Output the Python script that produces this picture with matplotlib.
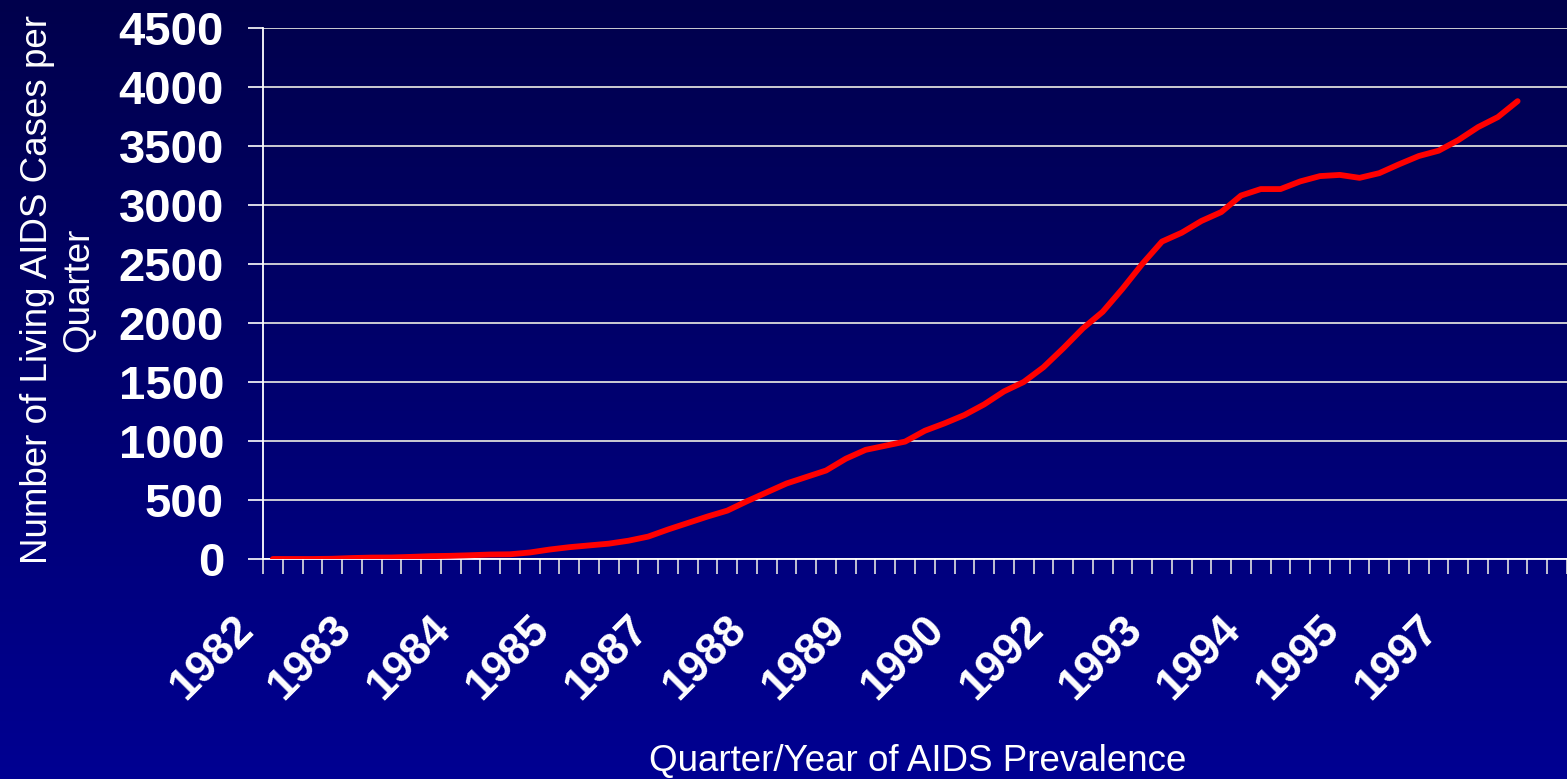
import numpy as np
import matplotlib.pyplot as plt
from matplotlib.colors import LinearSegmentedColormap

# Living AIDS cases per quarter, 1982 Q1 .. 1997 Q4
years = list(range(1982, 1998))
quarters = [f"{y} Q{q}" for y in years for q in range(1, 5)]
cases = [0, 0, 0, 2, 8, 12, 13, 18, 24, 27, 32, 38, 40, 55, 80, 100,
         115, 130, 155, 190, 250, 305, 360, 410, 490, 565, 640, 695, 750, 850, 925, 960,
         995, 1087, 1150, 1220, 1310, 1420, 1500, 1625, 1785, 1955, 2095, 2290, 2500, 2690, 2765, 2865,
         2940, 3080, 3135, 3135, 3200, 3245, 3255, 3230, 3270, 3345, 3415, 3460, 3550, 3660, 3745, 3880]
label_every = 5
y_ticks = [0, 500, 1000, 1500, 2000, 2500, 3000, 3500, 4000, 4500]

plt.rcParams['font.family'] = ['Liberation Sans', 'DejaVu Sans']

W, H = 1567, 779
fig = plt.figure(figsize=(W / 100, H / 100), dpi=100)

# background gradient, dark navy on top to blue at the bottom
bg = fig.add_axes([0, 0, 1, 1], zorder=0)
cmap = LinearSegmentedColormap.from_list('bg', ['#00004c', '#000092'])
bg.imshow(np.linspace(0, 1, 256).reshape(-1, 1), aspect='auto', cmap=cmap,
          extent=[0, 1, 0, 1])
bg.axis('off')

left, right = 263 / W, 1.0
bottom, top = 1 - 559 / H, 1 - 28 / H
ax = fig.add_axes([left, bottom, right - left, top - bottom], zorder=1)
ax.patch.set_alpha(0)

x = np.arange(len(quarters))
ax.plot(x, cases, color='#ff0000', lw=4.2, solid_capstyle='round', zorder=3)

ax.set_xlim(-0.5, 65.4)
ax.set_ylim(0, 4500)
ax.set_yticks(y_ticks)
ax.set_yticklabels([str(v) for v in y_ticks], fontsize=34, fontweight='bold', color='white')
ax.yaxis.grid(True, color='#dcdcdc', lw=1.3)
ax.set_axisbelow(True)

# tick marks between categories, year labels on every 5th quarter
ax.set_xticks(np.arange(-0.5, 66, 1))
ax.set_xticklabels([])
for i in x[::label_every]:
    ax.annotate(quarters[i].split()[0], xy=(i, 0), xycoords=('data', 'axes fraction'),
                xytext=(-19, -46), textcoords='offset points',
                rotation=45, ha='right', va='center', rotation_mode='anchor',
                fontsize=32, fontweight='bold', color='white', annotation_clip=False)
ax.tick_params(axis='x', length=11, width=1.2, color='#e0e0e0', direction='out')
ax.tick_params(axis='y', length=11, width=1.2, color='white', pad=17)

for s in ['top', 'right']:
    ax.spines[s].set_visible(False)
for s in ['left', 'bottom']:
    ax.spines[s].set_color('white')
    ax.spines[s].set_linewidth(1.3)

fig.text(918 / W, 1 - 762 / H, 'Quarter/Year of AIDS Prevalence', color='white',
         fontsize=26.5, ha='center', va='center')
fig.text(58 / W, 1 - 290 / H, 'Number of Living AIDS Cases per\nQuarter', color='white',
         fontsize=26.5, ha='center', va='center', rotation=90, linespacing=1.25)

fig.savefig('out.png', dpi=100)
